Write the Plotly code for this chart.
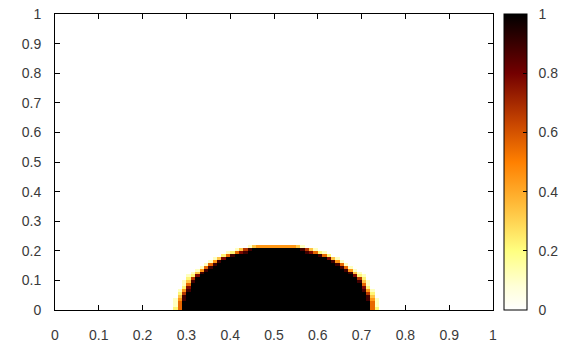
import plotly.graph_objects as go

# Grid: 100 x 100 cells on the unit square
N = 100
center_col = 50  # column of droplet axis (x = 0.50..0.51)

# Per-row description of the droplet (right half, mirrored):
# core_halfwidth[r]: number of fully-filled cells from the axis outward (dx = 0..core-1)
# edge_levels[r]: fill levels (digit/9) of the interface cells following the core
core_halfwidth = [22, 22, 22, 21, 21, 21, 20, 20, 20, 19, 19, 18, 17, 16, 15, 14, 13, 12, 10, 7, 6, 0]
edge_levels = ["52", "51", "51", "841", "83", "62", "841", "72", "51", "831", "62", "721",
               "831", "841", "851", "851", "841", "731", "852", "87521", "8631", "4444431"]

x_ticks = [0, 0.1, 0.2, 0.3, 0.4, 0.5, 0.6, 0.7, 0.8, 0.9, 1]
cb_ticks = [0, 0.2, 0.4, 0.6, 0.8, 1]

xs = [(i + 0.5) / N for i in range(N)]
ys = [(j + 0.5) / N for j in range(N)]
z = [[0.0] * N for _ in range(N)]
for r, (core, edge) in enumerate(zip(core_halfwidth, edge_levels)):
    half = [1.0] * core + [int(ch) / 9 for ch in edge]
    for dx, v in enumerate(half):
        for c in (center_col + dx, center_col - dx):
            if 0 <= c < N:
                z[r][c] = v

colorscale = [
    [0.0, 'rgb(255,255,255)'],
    [0.08, 'rgb(255,255,215)'],
    [0.2, 'rgb(255,255,128)'],
    [0.35, 'rgb(255,190,60)'],
    [0.5, 'rgb(255,128,0)'],
    [0.63, 'rgb(200,70,0)'],
    [0.8, 'rgb(115,0,0)'],
    [1.0, 'rgb(0,0,0)'],
]

font = dict(family='Liberation Sans, Arial, sans-serif', size=14, color='#3a3a3a')

fig = go.Figure(go.Heatmap(
    x=xs, y=ys, z=z, zmin=0, zmax=1, colorscale=colorscale,
    colorbar=dict(
        x=1.025, xanchor='left', xpad=0, y=0.5, yanchor='middle', ypad=0,
        len=1, lenmode='fraction', thickness=23,
        outlinecolor='black', outlinewidth=1,
        tickvals=cb_ticks, ticktext=['\u00a0\u00a0' + f"{t:g}" for t in cb_ticks],
        ticks='inside', ticklen=4, tickcolor='black',
        tickfont=font,
    ),
))

axis_common = dict(
    range=[0, 1], showgrid=False, zeroline=False, automargin=False,
    showline=True, linecolor='black', linewidth=1, mirror='ticks',
    ticks='inside', ticklen=5, tickcolor='black', tickfont=font,
)
fig.update_xaxes(tickvals=x_ticks, ticktext=[f"{t:g}" for t in x_ticks],
                 ticklabelstandoff=12, **axis_common)
fig.update_yaxes(tickvals=x_ticks, ticktext=[f"{t:g}" for t in x_ticks],
                 ticklabelstandoff=10, **axis_common)

fig.update_layout(
    width=576, height=345,
    margin=dict(l=55, r=83, t=14, b=35, autoexpand=False),
    paper_bgcolor='white', plot_bgcolor='white',
    font=font,
)

fig.write_html("out.html")
